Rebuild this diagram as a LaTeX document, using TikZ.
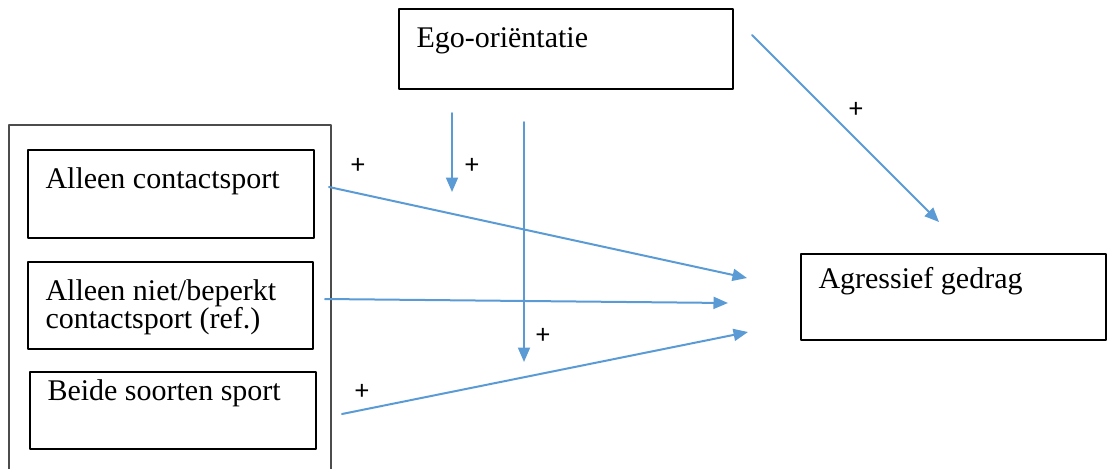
\documentclass[tikz,border=0pt]{standalone}
\usepackage{fontspec}
\setmainfont{Liberation Serif}
\newfontfamily\signfont{Carlito}
\usetikzlibrary{arrows.meta}

\definecolor{effectblue}{RGB}{91,155,213}

\begin{document}
\begin{tikzpicture}[
  x=0.4pt, y=-0.4pt,
  >={Triangle[length=5.8pt,width=4.8pt]},
  line cap=round,
  line join=round,
  every node/.style={font=\fontsize{12}{13.3}\selectfont},
  box/.style={draw=black, line width=0.65pt, rectangle, inner sep=0pt, anchor=north west},
  lbl/.style={inner sep=0pt, anchor=base west, align=left},
  sign/.style={inner sep=0pt, font=\signfont\fontsize{11}{13}\selectfont},
  effect/.style={->, effectblue, line width=0.8pt}
]
  \path[use as bounding box, clip] (0,0) rectangle (1107,468);

  % The boxes
  \node[box, draw=black!70, minimum width=128.8pt, minimum height=142.4pt] (group) at (8,124) {};
  \node[box, minimum width=114.4pt, minimum height=35.2pt] (contact) at (27,149) {};
  \node[box, minimum width=114pt, minimum height=34.8pt] (limited) at (27,261) {};
  \node[box, minimum width=114.4pt, minimum height=30.8pt] (both) at (29,371) {};
  \node[box, minimum width=133.6pt, minimum height=32pt] (ego) at (398,8) {};
  \node[box, minimum width=122pt, minimum height=34.4pt] (aggr) at (800,253) {};

  \node[lbl] (contacttext) at ([shift={(18,39)}]contact.north west) {Alleen contactsport};
  \node[lbl] (limitedtext) at ([shift={(18,67)}]limited.north west) {Alleen niet/beperkt\\[-2.4pt]contactsport (ref.)};
  \node[lbl] (bothtext) at ([shift={(18,29)}]both.north west) {Beide soorten sport};
  \node[lbl] (egotext) at ([shift={(18,39)}]ego.north west) {Ego-oriëntatie};
  \node[lbl] (aggrtext) at ([shift={(18,35)}]aggr.north west) {Agressief gedrag};

  % Paths into aggressive behaviour
  \coordinate (p1) at (329,187);
  \coordinate (p1e) at (747,278);
  \coordinate (p2) at (325,299);
  \coordinate (p2e) at (728,303);
  \coordinate (p3) at (342,414);
  \coordinate (p3e) at (748,332);
  \coordinate (p4) at (752,35);
  \coordinate (p4e) at (939,222);

  \draw[effect] (p1) -- (p1e);
  \draw[effect] (p2) -- (p2e);
  \draw[effect] (p3) -- (p3e);
  \draw[effect] (p4) -- (p4e);

  % Moderation by ego orientation
  \coordinate (m1) at (452,113);
  \coordinate (m1e) at (452,192);
  \coordinate (m2) at (524,122);
  \coordinate (m2e) at (524,362);

  \draw[effect] (m1) -- (m1e);
  \draw[effect] (m2) -- (m2e);

  \node[sign] (s1) at (358,166) {+};
  \node[sign] (s2) at (472,166) {+};
  \node[sign] (s3) at (543,336) {+};
  \node[sign] (s4) at (362,392) {+};
  \node[sign] (s5) at (856,110) {+};
\end{tikzpicture}
\end{document}
